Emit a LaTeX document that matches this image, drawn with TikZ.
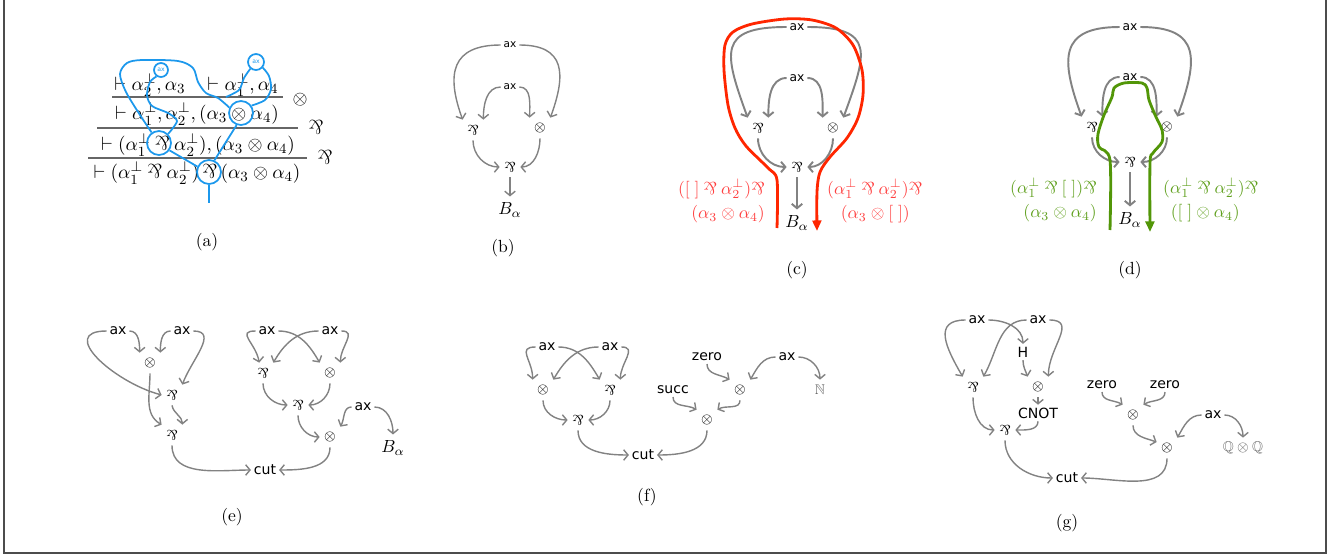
\documentclass[tikz,border=0pt]{standalone}
\usepackage{amsmath}
\usepackage{amssymb}
\usepackage{graphicx}
\usepackage{fontspec}
\setsansfont{DejaVu Sans}
\usetikzlibrary{arrows.meta}
\definecolor{wiregray}{RGB}{130,130,130}
\definecolor{proofblue}{RGB}{28,152,236}
\definecolor{pathred}{RGB}{255,38,0}
\definecolor{textred}{RGB}{255,64,64}
\definecolor{pathgreen}{RGB}{82,150,8}
\definecolor{textgreen}{RGB}{96,160,30}
\newcommand{\parrsym}{\rotatebox[origin=c]{180}{\&}}
\newcommand{\parrop}{\mathbin{\parrsym}}
\tikzset{%
  lab/.style={inner sep=1.5pt,font=\sffamily\footnotesize},
  smalllab/.style={inner sep=1.5pt,font=\sffamily\scriptsize},
  tinylab/.style={inner sep=1.5pt,font=\sffamily\fontsize{6}{7}\selectfont},
  sym/.style={inner sep=0pt,minimum size=0.4cm,font=\footnotesize},
  wire/.style={draw=wiregray,line width=0.8pt,-{Straight Barb[length=2.5pt,width=6pt]}},
  fatwire/.style={wire,line width=1.1pt},
  seq/.style={inner sep=0pt,font=\fontsize{11.3}{13.5}\selectfont},
  infrule/.style={draw=black!60,line width=0.6pt},
  bring/.style={draw=proofblue,circle,line width=1pt,inner sep=0pt,minimum size=0.48cm},
  bax/.style={draw=proofblue,circle,line width=1pt,inner sep=0pt,minimum size=0.28cm,text=proofblue,font=\sffamily\fontsize{3.5}{4}\selectfont},
  bline/.style={draw=proofblue,line width=1pt},
  redpath/.style={draw=pathred,line width=1.6pt,-{Triangle[length=6pt,width=5pt]}},
  greenpath/.style={draw=pathgreen,line width=1.6pt,-{Triangle[length=6pt,width=5pt]}},
  subcap/.style={font=\normalsize}
}

\begin{document}
\begin{tikzpicture}[x=0.02cm,y=-0.02cm]
  \useasboundingbox (0,0) rectangle (1333,558);
  \draw[black!70,line width=0.6pt] (4,-5) -- (4,553) -- (1326,553) -- (1326,-5);

  \node[seq] (aseq1) at (150,85) {$\vdash \alpha_2^\perp, \alpha_3$};
  \node[seq] (aseq2) at (243,85) {$\vdash \alpha_1^\perp, \alpha_4$};
  \draw[infrule] (112,97) -- (283,97);
  \node[seq] (arule1) at (300,100) {$\otimes$};
  \node[seq] (aseq3) at (197,114) {$\vdash \alpha_1^\perp, \alpha_2^\perp, (\alpha_3 \otimes \alpha_4)$};
  \draw[infrule] (97,128) -- (298,128);
  \node[seq] (arule2) at (316,127) {$\parrsym$};
  \node[seq] (aseq4) at (198,145) {$\vdash (\alpha_1^\perp \parrop \alpha_2^\perp), (\alpha_3 \otimes \alpha_4)$};
  \draw[infrule] (88,158) -- (307,158);
  \node[seq] (arule3) at (325,157) {$\parrsym$};
  \node[seq] (aseq5) at (197,173) {$\vdash (\alpha_1^\perp \parrop \alpha_2^\perp)\,{\parrsym}\,(\alpha_3 \otimes \alpha_4)$};
  \node[subcap] (acap) at (207,242) {(a)};
  \node[bax] (aax1) at (161,70) {ax};
  \node[bax,minimum size=0.32cm] (aax2) at (256,62) {ax};
  \node[bring] (aten) at (241,113) {};
  \node[bring] (apar1) at (159,143) {};
  \node[bring] (apar2) at (209,172) {};
  \coordinate (aout) at (209,203);
  \draw[bline] plot[smooth] coordinates {(apar1.125) (140,115) (126,92) (120,74) (127,63) (142,60) (178,61) (193,68) (198,82) (206,93) (218,98) (aten.155)};
  \draw[bline] plot[smooth] coordinates {(aax2.230) (244,78) (239,90) (226,97)};
  \draw[bline] plot[smooth] coordinates {(aax2.-40) (269,76) (271,89) (265,100) (aten.35)};
  \draw[bline] plot[smooth] coordinates {(aax1.235) (150,82) (147,95) (152,106) (168,113) (177,121) (apar1.45)};
  \draw[bline] (aten.250) -- (apar2.65);
  \draw[bline] (apar1.-35) -- (apar2.155);
  \draw[bline] (apar2.south) -- (aout);

  \node[tinylab] (bax1) at (510,45) {ax};
  \node[tinylab] (bax2) at (510,87) {ax};
  \node[sym] (bpar1) at (473,130) {$\parrsym$};
  \node[sym] (bten) at (540,128) {$\otimes$};
  \node[sym] (bpar2) at (510,167) {$\parrsym$};
  \node (bB) at (510,210) {$B_\alpha$};
  \node[subcap] (bcap) at (503,248) {(b)};
  \draw[wire] (bax1) to[out=180,in=110,looseness=1.5] (bpar1.north west);
  \draw[wire] (bax1) to[out=0,in=70,looseness=1.5] (bten.north east);
  \draw[wire] (bax2) to[out=180,in=90] (bpar1.north east);
  \draw[wire] (bax2) to[out=0,in=90] (bten.north west);
  \draw[wire] (bpar1.south) to[out=-90,in=180] (bpar2.west);
  \draw[wire] (bten.south) to[out=-90,in=0] (bpar2.east);
  \draw[wire] (bpar2.south) -- (bB);

  \node[smalllab] (cax1) at (797,27) {ax};
  \node[smalllab] (cax2) at (797,78) {ax};
  \node[sym] (cpar1) at (758,128) {$\parrsym$};
  \node[sym] (cten) at (833,128) {$\otimes$};
  \node[sym] (cpar2) at (797,167) {$\parrsym$};
  \node (cB) at (797,223) {$B_\alpha$};
  \node[subcap] (ccap) at (797,270) {(c)};
  \draw[fatwire] (cax1) to[out=180,in=110,looseness=1.8] (cpar1.north west);
  \draw[fatwire] (cax1) to[out=0,in=70,looseness=1.8] (cten.north east);
  \draw[fatwire] (cax2) to[out=180,in=90] (cpar1.north east);
  \draw[fatwire] (cax2) to[out=0,in=90] (cten.north west);
  \draw[fatwire] (cpar1.south) to[out=-90,in=180] (cpar2.west);
  \draw[fatwire] (cten.south) to[out=-90,in=0] (cpar2.east);
  \draw[fatwire] (cpar2.south) -- (cB);
  \draw[redpath] plot[smooth] coordinates {(777,228) (777,180) (768,168) (746,146) (735,128) (728,105) (724,70) (725,45) (733,32) (752,24) (785,19) (812,20) (836,28) (853,45) (862,70) (863,95) (858,118) (847,138) (830,157) (820,172) (817,192) (817,231)};
  \node[anchor=east,text=textred] (cl1) at (771,189) {$([\;]\parrop\alpha_2^\perp)\parrsym$};
  \node[anchor=east,text=textred] (cl2) at (771,214) {$(\alpha_3\otimes\alpha_4)$};
  \node[anchor=west,text=textred] (cr1) at (821,189) {$(\alpha_1^\perp\parrop\alpha_2^\perp)\parrsym$};
  \node[anchor=east,text=textred] (cr2) at (916,214) {$(\alpha_3\otimes[\;])$};

  \node[smalllab] (dax1) at (1130,27) {ax};
  \node[smalllab] (dax2) at (1130,77) {ax};
  \node[sym] (dpar1) at (1092,127) {$\parrsym$};
  \node[sym] (dten) at (1167,127) {$\otimes$};
  \node[sym] (dpar2) at (1130,162) {$\parrsym$};
  \node (dB) at (1130,220) {$B_\alpha$};
  \node[subcap] (dcap) at (1130,270) {(d)};
  \draw[fatwire] (dax1) to[out=180,in=110,looseness=1.6] (dpar1.north west);
  \draw[fatwire] (dax1) to[out=0,in=70,looseness=1.6] (dten.north east);
  \draw[fatwire] (dax2) to[out=180,in=90] (dpar1.north east);
  \draw[fatwire] (dax2) to[out=0,in=90] (dten.north west);
  \draw[fatwire] (dpar1.south) to[out=-90,in=180] (dpar2.west);
  \draw[fatwire] (dten.south) to[out=-90,in=0] (dpar2.east);
  \draw[fatwire] (dpar2.south) -- (dB);
  \draw[greenpath] plot[smooth] coordinates {(1110,230) (1110,160) (1099,147) (1098,134) (1104,115) (1112,97) (1114,88) (1124,83) (1142,83) (1147,88) (1149,100) (1156,117) (1162,130) (1162,142) (1153,153) (1150,163) (1150,232)};
  \node[anchor=east,text=textgreen] (dl1) at (1103,188) {$(\alpha_1^\perp\parrop[\;])\parrsym$};
  \node[anchor=east,text=textgreen] (dl2) at (1103,213) {$(\alpha_3\otimes\alpha_4)$};
  \node[anchor=west,text=textgreen] (dr1) at (1157,188) {$(\alpha_1^\perp\parrop\alpha_2^\perp)\parrsym$};
  \node[anchor=east,text=textgreen] (dr2) at (1246,213) {$([\;]\otimes\alpha_4)$};

  \node[lab] (eax1) at (118,331) {ax};
  \node[lab] (eax2) at (182,331) {ax};
  \node[sym] (eten1) at (150,363) {$\otimes$};
  \node[sym] (epar1) at (172,395) {$\parrsym$};
  \node[sym] (epar2) at (172,435) {$\parrsym$};
  \node[lab] (ecut) at (265,470) {cut};
  \node[lab] (eax3) at (267,331) {ax};
  \node[lab] (eax4) at (330,331) {ax};
  \node[sym] (epar3) at (263,373) {$\parrsym$};
  \node[sym] (eten2) at (330,373) {$\otimes$};
  \node[sym] (epar4) at (298,405) {$\parrsym$};
  \node[sym] (eten3) at (330,437) {$\otimes$};
  \node[lab] (eax5) at (363,407) {ax};
  \node (eB) at (393,448) {$B_\alpha$};
  \node[subcap] (ecap) at (232,517) {(e)};
  \draw[wire] (eax1) to[out=0,in=90] (eten1.north west);
  \draw[wire] (eax1) to[out=180,in=165,looseness=1.5] (epar1.west);
  \draw[wire] (eax2) to[out=180,in=90] (eten1.north east);
  \draw[wire] (eax2) to[out=0,in=70,looseness=1.2] (epar1.north east);
  \draw[wire] (eten1.south) to[out=-90,in=150] (epar2.north west);
  \draw[wire] (epar1.south) to[out=-80,in=90] (epar2.north east);
  \draw[wire] (epar2.south) to[out=-90,in=180] (ecut.west);
  \draw[wire] (eax3) to[out=180,in=100,looseness=1.6] (epar3.110);
  \draw[wire] (eax3) to[out=0,in=120] (eten2.north west);
  \draw[wire] (eax4) to[out=180,in=60] (epar3.north east);
  \draw[wire] (eax4) to[out=0,in=90,looseness=1.3] (eten2.north east);
  \draw[wire] (epar3.south) to[out=-90,in=180] (epar4.west);
  \draw[wire] (eten2.south) to[out=-90,in=0] (epar4.east);
  \draw[wire] (epar4.south) to[out=-90,in=180] (eten3.west);
  \draw[wire] (eax5) to[out=180,in=60] (eten3.north east);
  \draw[wire] (eax5) to[out=0,in=90] (eB.north);
  \draw[wire] (eten3.south) to[out=-90,in=0] (ecut.east);

  \node[lab] (fax1) at (547,347) {ax};
  \node[lab] (fax2) at (610,347) {ax};
  \node[sym] (ften1) at (543,390) {$\otimes$};
  \node[sym] (fpar1) at (610,390) {$\parrsym$};
  \node[sym] (fpar2) at (578,420) {$\parrsym$};
  \node[lab] (fcut) at (643,455) {cut};
  \node[lab] (fzero) at (707,357) {zero};
  \node[sym] (ften2) at (740,390) {$\otimes$};
  \node[lab] (fsucc) at (673,390) {succ};
  \node[sym] (ften3) at (707,420) {$\otimes$};
  \node[lab] (fax3) at (787,357) {ax};
  \node[sym,text=black!60] (fN) at (820,390) {$\mathbb{N}$};
  \node[subcap] (fcap) at (647,497) {(f)};
  \draw[wire] (fax1) to[out=180,in=90,looseness=1.5] (ften1.north west);
  \draw[wire] (fax1) to[out=0,in=120] (fpar1.north west);
  \draw[wire] (fax2) to[out=180,in=60] (ften1.north east);
  \draw[wire] (fax2) to[out=0,in=90,looseness=1.3] (fpar1.north east);
  \draw[wire] (ften1.south) to[out=-90,in=180] (fpar2.west);
  \draw[wire] (fpar1.south) to[out=-90,in=0] (fpar2.east);
  \draw[wire] (fpar2.south) to[out=-90,in=180] (fcut.west);
  \draw[wire] (fzero.south) to[out=-90,in=150] (ften2.north west);
  \draw[wire] (fax3) to[out=180,in=60] (ften2.north east);
  \draw[wire] (fax3) to[out=0,in=90] (fN.north);
  \draw[wire] (fsucc.south) to[out=-90,in=150] (ften3.north west);
  \draw[wire] (ften2.south) to[out=-90,in=30] (ften3.north east);
  \draw[wire] (ften3.south) to[out=-90,in=0] (fcut.east);

  \node[lab] (gax1) at (977,320) {ax};
  \node[lab] (gax2) at (1038,320) {ax};
  \node[lab] (gH) at (1023,352) {H};
  \node[sym] (gpar1) at (973,387) {$\parrsym$};
  \node[sym] (gten1) at (1038,387) {$\otimes$};
  \node[lab] (gcnot) at (1038,413) {CNOT};
  \node[sym] (gpar2) at (1005,430) {$\parrsym$};
  \node[lab] (gcut) at (1067,478) {cut};
  \node[lab] (gzero1) at (1102,385) {zero};
  \node[lab] (gzero2) at (1165,385) {zero};
  \node[sym] (gten2) at (1133,415) {$\otimes$};
  \node[sym] (gten3) at (1167,448) {$\otimes$};
  \node[lab] (gax3) at (1213,415) {ax};
  \node[sym,text=black!60] (gQ) at (1243,448) {$\mathbb{Q}\otimes\mathbb{Q}$};
  \node[subcap] (gcap) at (1067,523) {(g)};
  \draw[wire] (gax1) to[out=180,in=120,looseness=1.5] (gpar1.north west);
  \draw[wire] (gax1) to[out=0,in=90] (gH.north);
  \draw[wire] (gax2) to[out=180,in=60] (gpar1.north east);
  \draw[wire] (gax2) to[out=0,in=90,looseness=1.3] (gten1.north east);
  \draw[wire] (gH.south) to[out=-90,in=110] (gten1.north west);
  \draw[wire] (gten1.south) -- (gcnot.north);
  \draw[wire] (gpar1.south) to[out=-90,in=180] (gpar2.west);
  \draw[wire] (gcnot.south) to[out=-90,in=0] (gpar2.east);
  \draw[wire] (gpar2.south) to[out=-90,in=180] (gcut.west);
  \draw[wire] (gzero1.south) to[out=-90,in=150] (gten2.north west);
  \draw[wire] (gzero2.south) to[out=-90,in=30] (gten2.north east);
  \draw[wire] (gten2.south) to[out=-90,in=160] (gten3.150);
  \draw[wire] (gax3) to[out=180,in=60] (gten3.north east);
  \draw[wire] (gax3) to[out=0,in=90] (gQ.north);
  \draw[wire] (gten3.south) to[out=-90,in=0] (gcut.east);
\end{tikzpicture}
\end{document}
